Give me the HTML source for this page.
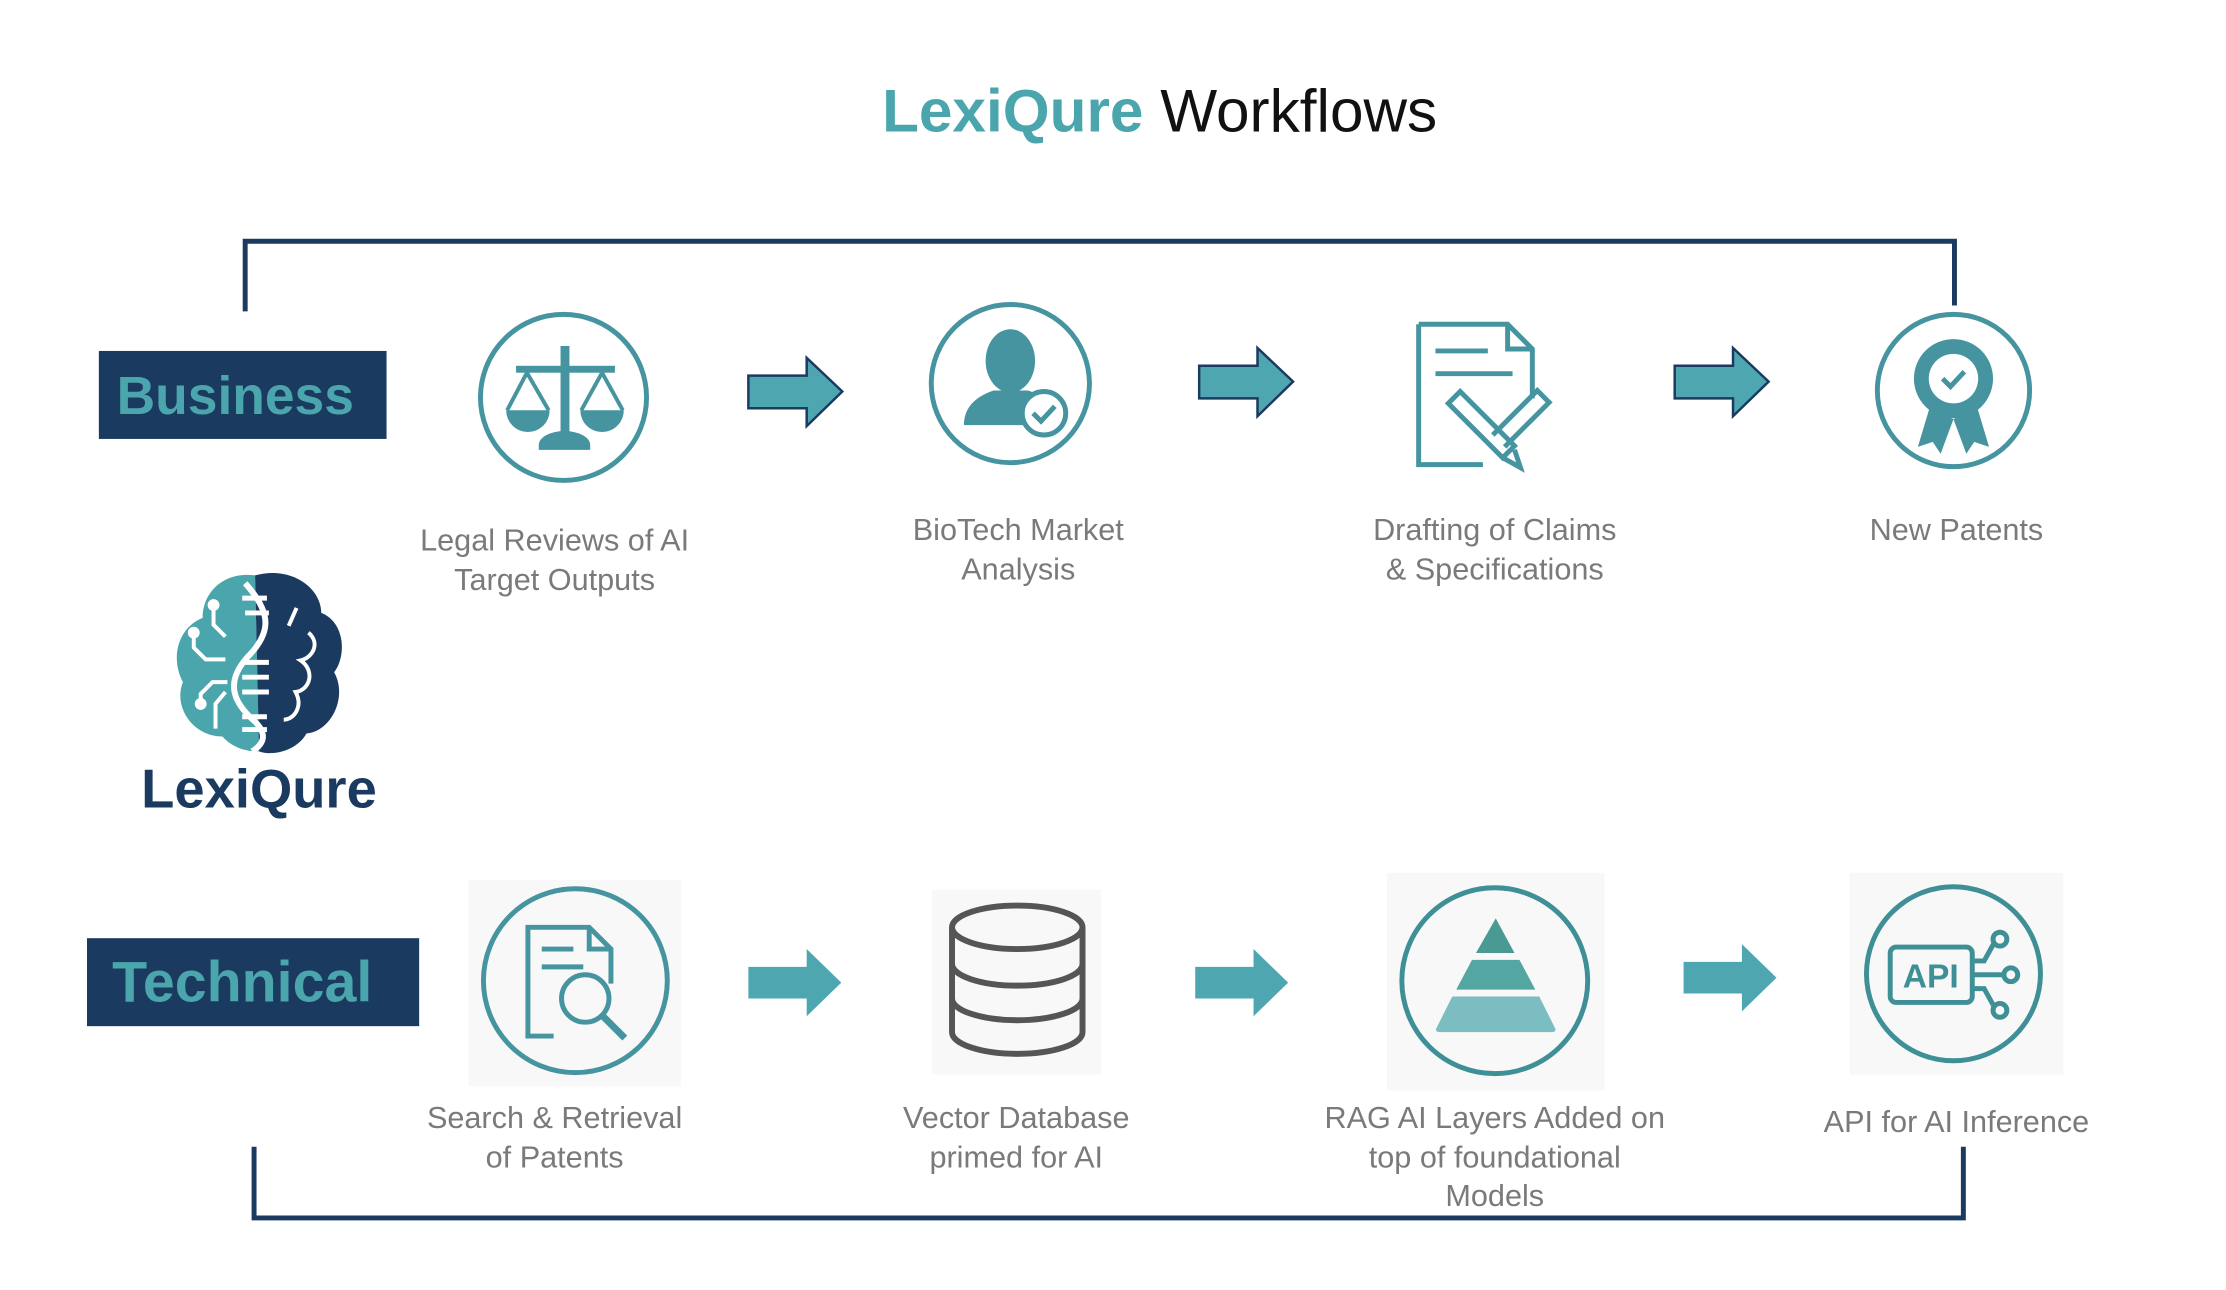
<!DOCTYPE html>
<html><head><meta charset="utf-8"><style>
html,body{margin:0;padding:0;background:#fff;}
svg{display:block;}
text{font-family:"Liberation Sans",sans-serif;}
.lbl{font-size:31px;fill:#7a7a7a;text-anchor:middle;}
</style></head><body>
<svg width="2226" height="1290" viewBox="0 0 2226 1290" xmlns="http://www.w3.org/2000/svg">
<rect width="2226" height="1290" fill="#fff"/>
<g transform="scale(0.9886)">
<!-- title -->
<text x="1173" y="133" font-size="61" text-anchor="middle"><tspan fill="#4ba5ad" font-weight="bold">LexiQure</tspan><tspan fill="#111"> Workflows</tspan></text>

<!-- brackets -->
<polyline points="248,315 248,244 1977,244 1977,309" fill="none" stroke="#1b3a5f" stroke-width="5"/>
<polyline points="257,1160 257,1232 1986,1232 1986,1160" fill="none" stroke="#1b3a5f" stroke-width="5"/>

<!-- labels boxes -->
<rect x="100" y="355" width="291" height="89" fill="#1b3a5f"/>
<text x="238" y="419" font-size="54" font-weight="bold" fill="#4ba5ad" text-anchor="middle">Business</text>
<rect x="88" y="949" width="336" height="89" fill="#1b3a5f"/>
<text x="245" y="1013" font-size="58" font-weight="bold" fill="#4ba5ad" text-anchor="middle">Technical</text>

<!-- logo -->
<g>
<path d="M258,582 C225,578 205,600 205,625 C180,635 172,665 185,690 C175,715 195,745 225,745 C240,762 262,760 262,760 Z" fill="#4ba5ad"/>
<path d="M258,582 C295,572 325,595 325,620 C350,630 350,665 338,680 C352,705 335,740 310,742 C300,760 275,765 262,760 Z" fill="#1b3a5f"/>
<path d="M248,590 C275,620 275,640 250,665 C228,690 235,710 258,730 C270,742 268,752 255,760" fill="none" stroke="#fff" stroke-width="6"/>
<g stroke="#fff" stroke-width="5"><line x1="245" y1="605" x2="270" y2="605"/><line x1="248" y1="620" x2="272" y2="620"/><line x1="245" y1="670" x2="272" y2="670"/><line x1="245" y1="685" x2="272" y2="685"/><line x1="245" y1="700" x2="272" y2="700"/><line x1="245" y1="725" x2="270" y2="725"/><line x1="245" y1="738" x2="270" y2="738"/></g>
<g stroke="#fff" stroke-width="4" fill="none"><path d="M216,612 v20 l12,12"/><path d="M196,640 v15 l12,12 h20"/><path d="M230,690 h-15 l-12,12 v10"/><path d="M228,700 l-10,12 v25"/><path d="M300,615 l-8,18"/><path d="M312,640 c12,10 5,25 -8,28 c15,10 10,30 -5,32 c8,15 -2,28 -12,28"/></g>
<g fill="#fff"><circle cx="216" cy="612" r="6"/><circle cx="196" cy="640" r="6"/><circle cx="203" cy="712" r="6"/></g>
<text x="262" y="817" font-size="55" font-weight="bold" fill="#1b3a5f" text-anchor="middle">LexiQure</text>
</g>

<!-- business row -->
<circle cx="570" cy="402" r="84" fill="none" stroke="#4594a0" stroke-width="5"/>
<g fill="#4594a0"><rect x="567" y="350" width="9" height="100"/><rect x="522" y="370" width="100" height="7"/>
<path d="M545,455 h52 v-5 a26,14 0 0 0 -52,0z"/>
<path d="M512,415 a22,22 0 0 0 44,0z"/><path d="M587,415 a22,22 0 0 0 44,0z"/></g>
<g stroke="#4594a0" stroke-width="4" fill="none"><path d="M513,415 L533,377 L555,415"/><path d="M588,415 L609,377 L630,415"/></g>
<text class="lbl" x="561" y="557">Legal Reviews of AI</text>
<text class="lbl" x="561" y="597">Target Outputs</text>

<circle cx="1022" cy="388" r="80" fill="none" stroke="#4594a0" stroke-width="5"/>
<g fill="#4594a0"><ellipse cx="1022" cy="365" rx="25" ry="32"/><path d="M975,430 c0,-20 15,-30 30,-35 h35 c15,5 25,15 25,35z"/></g>
<circle cx="1056" cy="418" r="22" fill="#fff" stroke="#4594a0" stroke-width="5"/>
<path d="M1045,418 l8,8 l14,-15" fill="none" stroke="#4594a0" stroke-width="5"/>
<text class="lbl" x="1030" y="546">BioTech Market</text>
<text class="lbl" x="1030" y="586">Analysis</text>

<g fill="none" stroke="#4594a0" stroke-width="5">
<path d="M1435,328 h90 l25,25 v50 M1500,470 h-65 v-142"/><path d="M1525,328 v25 h25"/>
<line x1="1452" y1="355" x2="1505" y2="355"/><line x1="1452" y1="378" x2="1530" y2="378"/>
<path d="M1465,408 l12,-12 l55,55 l-12,12z M1520,463 l18,10 l-6,-18"/>
<path d="M1510,440 l45,-45 l12,12 l-45,45"/></g>
<text class="lbl" x="1512" y="546">Drafting of Claims</text>
<text class="lbl" x="1512" y="586">&amp; Specifications</text>

<circle cx="1976" cy="395" r="77" fill="none" stroke="#4594a0" stroke-width="5"/>
<g fill="#4594a0"><circle cx="1976" cy="383" r="40"/><path d="M1952,412 l-12,40 l15,-5 l8,12 l13,-35z M2000,412 l12,40 l-15,-5 l-8,12 l-13,-35z"/></g>
<circle cx="1976" cy="383" r="25" fill="#fff"/>
<path d="M1965,383 l8,8 l14,-15" fill="none" stroke="#4594a0" stroke-width="5"/>
<text class="lbl" x="1979" y="546">New Patents</text>

<!-- business arrows -->
<g fill="#4ea7b0" stroke="#1b3a5f" stroke-width="2.5">
<path d="M757,380 h59 v-18 l36,34 l-36,35 v-18 h-59z"/>
<path d="M1213,370 h59 v-18 l36,34 l-36,35 v-18 h-59z"/>
<path d="M1694,370 h59 v-18 l36,34 l-36,35 v-18 h-59z"/>
</g>

<!-- technical row -->
<rect x="474" y="890" width="215" height="209" fill="#f8f8f8"/>
<circle cx="582" cy="992" r="93" fill="none" stroke="#4594a0" stroke-width="5"/>
<g fill="none" stroke="#4594a0" stroke-width="5"><path d="M560,1048 h-26 v-110 h62 l22,22 v35"/><path d="M596,938 v22 h22"/><line x1="548" y1="960" x2="580" y2="960"/><line x1="548" y1="978" x2="590" y2="978"/><circle cx="592" cy="1010" r="24"/><line x1="609" y1="1027" x2="632" y2="1050" stroke-width="7"/></g>
<text class="lbl" x="561" y="1141">Search &amp; Retrieval</text>
<text class="lbl" x="561" y="1181">of Patents</text>

<rect x="943" y="900" width="171" height="187" fill="#f8f8f8"/>
<g fill="none" stroke="#555" stroke-width="6">
<ellipse cx="1029" cy="938" rx="66" ry="22"/>
<path d="M963,938 v106 a66,22 0 0 0 132,0 v-106"/>
<path d="M963,975 a66,22 0 0 0 132,0"/><path d="M963,1010 a66,22 0 0 0 132,0"/></g>
<text class="lbl" x="1028" y="1141">Vector Database</text>
<text class="lbl" x="1028" y="1181">primed for AI</text>

<rect x="1403" y="883" width="220" height="220" fill="#f8f8f8"/>
<circle cx="1512" cy="992" r="94" fill="none" stroke="#3f8f96" stroke-width="5"/>
<path d="M1513,929 l19,35 h-39z" fill="#4a9a93"/>
<path d="M1489,971 h48 l16,30 h-80z" fill="#54a6a2"/>
<path d="M1469,1008 h88 l16,32 q2,4 -4,4 h-112 q-6,0 -4,-4z" fill="#7bbdc0"/>
<text class="lbl" x="1512" y="1141">RAG AI Layers Added on</text>
<text class="lbl" x="1512" y="1181">top of foundational</text>
<text class="lbl" x="1512" y="1220">Models</text>

<rect x="1871" y="883" width="216" height="204" fill="#f8f8f8"/>
<circle cx="1976" cy="985" r="88" fill="none" stroke="#3f8f96" stroke-width="5"/>
<rect x="1912" y="958" width="83" height="56" rx="6" fill="none" stroke="#3f8f96" stroke-width="5"/>
<text x="1953" y="999" font-size="34" font-weight="bold" fill="#3f8f96" text-anchor="middle">API</text>
<g fill="none" stroke="#3f8f96" stroke-width="5"><path d="M1995,972 h12 l10,-18"/><line x1="1995" y1="986" x2="2027" y2="986"/><path d="M1995,1000 h12 l10,18"/><circle cx="2023" cy="950" r="7"/><circle cx="2034" cy="986" r="7"/><circle cx="2023" cy="1022" r="7"/></g>
<text class="lbl" x="1979" y="1145">API for AI Inference</text>

<!-- technical arrows -->
<g fill="#4ea7b0">
<path d="M757,978 h59 v-18 l35,34 l-35,34 v-18 h-59z"/>
<path d="M1209,978 h59 v-18 l35,34 l-35,34 v-18 h-59z"/>
<path d="M1703,973 h59 v-18 l35,34 l-35,34 v-18 h-59z"/>
</g>
</g>
</svg>
</body></html>
